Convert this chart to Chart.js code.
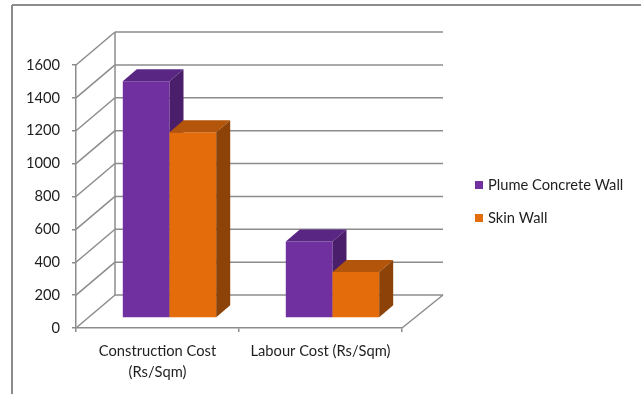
<!DOCTYPE html>
<html>
<head>
<meta charset="utf-8">
<title>Construction and Labour Cost</title>
<script src="https://cdn.jsdelivr.net/npm/chart.js@4.4.1/dist/chart.umd.min.js"></script>
<style>
  html, body { margin: 0; padding: 0; background: #fff; }
</style>
</head>
<body>
<canvas id="costChart" width="641" height="394"></canvas>
<script>
// chart data
const categories = [['Construction Cost', '(Rs/Sqm)'], 'Labour Cost (Rs/Sqm)'];
const seriesNames = ['Plume Concrete Wall', 'Skin Wall'];
const plumeValues = [1440, 465];
const skinValues = [1130, 280];
const yTicks = [0, 200, 400, 600, 800, 1000, 1200, 1400, 1600];

// face colours for the fake 3d columns: front, top, side
const faceColors = [
    { front: '#7030A0', top: '#5A2683', side: '#4A1E6B' },
    { front: '#E46C0A', top: '#B3550A', side: '#8D4307' }
];
const gridColor = '#8c8c8c';
const textColor = '#1f1f1f';
const labelFont = { family: 'Lato', size: 14.7 };

// depth offsets (px) for the walls and the columns
const wall = { dxL: 39, dxR: 41, dy: -33 };
const barShift = { dx: 12, dy: -10 };
const barDepth = { dx: 14, dy: -12 };
// legend spot on the right
const legendPos = { x: 475, y: 185, step: 33, box: 8, gap: 5 };

function line(ctx, x1, y1, x2, y2) {
    ctx.beginPath();
    ctx.moveTo(x1, y1);
    ctx.lineTo(x2, y2);
    ctx.stroke();
}

function poly(ctx, pts, color) {
    ctx.beginPath();
    ctx.moveTo(pts[0][0], pts[0][1]);
    pts.slice(1).forEach(p => ctx.lineTo(p[0], p[1]));
    ctx.closePath();
    ctx.fillStyle = color;
    ctx.fill();
}

// draws the frame, the back/side walls, the 3d columns and the legend
const fake3d = {
    id: 'fake3d',
    beforeDraw(chart) {
        const ctx = chart.ctx;
        ctx.save();
        ctx.strokeStyle = gridColor;
        ctx.lineWidth = 2;
        line(ctx, 12, 5, chart.width, 5);
        line(ctx, 12, 5, 12, chart.height);
        ctx.restore();
    },
    beforeDatasetsDraw(chart) {
        const ctx = chart.ctx;
        const a = chart.chartArea;
        const yScale = chart.scales.y;

        ctx.save();
        ctx.strokeStyle = gridColor;
        ctx.lineWidth = 1.5;
        yScale.ticks.forEach(t => {
            const py = yScale.getPixelForValue(t.value);
            line(ctx, a.left, py, a.left + wall.dxL, py + wall.dy);
            line(ctx, a.left + wall.dxL, py + wall.dy, a.right + wall.dxR, py + wall.dy);
        });
        line(ctx, a.left + wall.dxL, a.top + wall.dy, a.left + wall.dxL, a.bottom + wall.dy);
        line(ctx, a.right, a.bottom, a.right + wall.dxR, a.bottom + wall.dy);
        ctx.restore();

        // columns: front face by chart.js, then top and side
        ctx.save();
        ctx.translate(barShift.dx, barShift.dy);
        const metas = chart.data.datasets.map((d, i) => chart.getDatasetMeta(i));
        for (let i = 0; i < categories.length; i++) {
            metas.forEach((meta, di) => {
                const el = meta.data[i];
                el.draw(ctx);
                const p = el.getProps(['x', 'y', 'base', 'width'], true);
                const left = p.x - p.width / 2;
                const right = p.x + p.width / 2;
                const c = faceColors[di];
                poly(ctx, [[left, p.y], [right, p.y],
                    [right + barDepth.dx, p.y + barDepth.dy], [left + barDepth.dx, p.y + barDepth.dy]], c.top);
                poly(ctx, [[right, p.y], [right + barDepth.dx, p.y + barDepth.dy],
                    [right + barDepth.dx, p.base + barDepth.dy], [right, p.base]], c.side);
            });
        }
        ctx.restore();
        return false;
    },
    afterDraw(chart) {
        const ctx = chart.ctx;
        ctx.save();
        ctx.font = labelFont.size + 'px ' + labelFont.family;
        ctx.textBaseline = 'middle';
        chart.data.datasets.forEach((ds, i) => {
            const cy = legendPos.y + i * legendPos.step;
            ctx.fillStyle = ds.backgroundColor;
            ctx.fillRect(legendPos.x, cy - legendPos.box / 2, legendPos.box, legendPos.box);
            ctx.fillStyle = textColor;
            ctx.fillText(ds.label, legendPos.x + legendPos.box + legendPos.gap, cy);
        });
        ctx.restore();
    }
};

const ctx = document.getElementById('costChart').getContext('2d');
new Chart(ctx, {
    type: 'bar',
    data: {
        labels: categories,
        datasets: [
            {
                label: seriesNames[0],
                data: plumeValues,
                backgroundColor: faceColors[0].front,
                borderWidth: 0
            },
            {
                label: seriesNames[1],
                data: skinValues,
                backgroundColor: faceColors[1].front,
                borderWidth: 0
            }
        ]
    },
    options: {
        responsive: false,
        devicePixelRatio: 1,
        animation: false,
        categoryPercentage: 0.573,
        barPercentage: 1,
        layout: { padding: { top: 65, left: 0, right: 239, bottom: 0 } },
        plugins: {
            tooltip: { enabled: false },
            legend: { display: false }
        },
        scales: {
            x: {
                grid: { offset: true, drawOnChartArea: false, tickLength: 4, color: gridColor, lineWidth: 1.5 },
                border: { color: gridColor, width: 1.5 },
                ticks: {
                    padding: 9,
                    maxRotation: 0,
                    autoSkip: false,
                    color: textColor,
                    font: { family: labelFont.family, size: labelFont.size, lineHeight: 1.43 }
                },
                afterFit(scale) { scale.height = 66; }
            },
            y: {
                min: yTicks[0],
                max: yTicks[yTicks.length - 1],
                grid: { drawOnChartArea: false, tickLength: 4, color: gridColor, lineWidth: 1.5 },
                border: { color: gridColor, width: 1.5 },
                ticks: {
                    stepSize: yTicks[1] - yTicks[0],
                    padding: 12,
                    color: textColor,
                    font: labelFont,
                    callback: (v) => String(v)
                },
                afterFit(scale) { scale.width = 76; }
            }
        }
    },
    plugins: [fake3d]
});
</script>
</body>
</html>
